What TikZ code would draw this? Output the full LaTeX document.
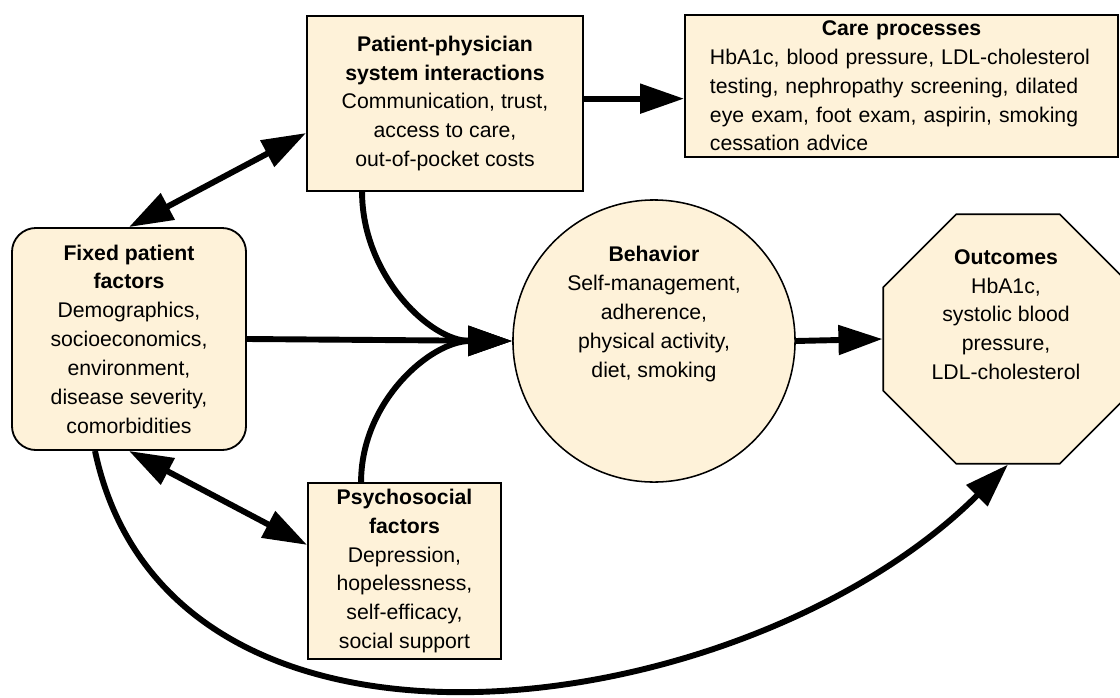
\documentclass[tikz,border=0pt]{standalone}
\usepackage{fontspec}
\setmainfont{Liberation Sans}
\usetikzlibrary{arrows.meta,shapes.geometric}
\definecolor{boxfill}{RGB}{254,242,217}

\begin{document}
\begin{tikzpicture}[x=0.025cm, y=-0.025cm,
        font=\fontsize{15.1}{20.5}\selectfont,
        factorbox/.style={rectangle, draw=black, fill=boxfill, line width=1.3pt, align=center, inner sep=0pt},
        roundbox/.style={factorbox, rounded corners=0.6cm},
        bubble/.style={circle, draw=black, fill=boxfill, line width=1.1pt, minimum size=7.05cm, inner sep=0pt},
        stopsign/.style={regular polygon, regular polygon sides=8, draw=black, fill=boxfill, line width=1.1pt, minimum size=6.75cm, inner sep=0pt},
        bodytext/.style={align=center, inner sep=0pt},
        link/.style={line width=4.2pt, -{Triangle[length=1.1cm,width=0.72cm]}},
        twoway/.style={line width=4.2pt, {Triangle[length=1.1cm,width=0.72cm]}-{Triangle[length=1.1cm,width=0.72cm]}},
    ]
        \useasboundingbox (0,0) rectangle (1120,698);

        %Nodes
        \node[roundbox, minimum width=5.85cm, minimum height=5.55cm] (fixed) at (129,339)
            {\textbf{Fixed patient}\\\textbf{factors}\\Demographics,\\socioeconomics,\\environment,\\disease severity,\\comorbidities};

        \node[factorbox, minimum width=6.9cm, minimum height=4.375cm] (phys) at (445,103.5)
            {\textbf{Patient-physician}\\\textbf{system interactions}\\Communication, trust,\\access to care,\\out-of-pocket costs};

        \node[factorbox, align=left, text width=9.575cm, minimum width=10.825cm, minimum height=3.55cm] (care) at (901.5,86)
            {{\centering\textbf{Care processes}\par}HbA1c, blood pressure, LDL-cholesterol\\testing, nephropathy screening, dilated\\eye exam, foot exam, aspirin, smoking\\cessation advice};

        \node[factorbox, minimum width=4.825cm, minimum height=4.4cm] (psy) at (404.5,571)
            {\textbf{Psychosocial}\\\textbf{factors}\\Depression,\\hopelessness,\\self-efficacy,\\social support};

        \node[bubble] (behavior) at (654,341) {};
        \node[bodytext] (behtext) at ([yshift=0.675cm]behavior.center)
            {\textbf{Behavior}\\Self-management,\\adherence,\\physical activity,\\diet, smoking};

        \node[stopsign] (outcomes) at (1008,339) {};
        \node[bodytext] (outtext) at ([yshift=0.61cm,xshift=-0.05cm]outcomes.center)
            {\textbf{Outcomes}\\HbA1c,\\systolic blood\\pressure,\\LDL-cholesterol};

        %Lines
        \draw[link] (phys.2) -- (care.west |- phys.2);
        \draw[twoway] (fixed.north) -- (phys.192);
        \draw[twoway] (fixed.south) -- (psy.165);

        \draw[link] (fixed.east) -- (behavior.west);
        \draw[link] ([xshift=1.4cm]phys.south west) to[out=-90,in=180] (behavior.west);
        \draw[link] ([xshift=1.35cm]psy.north west) to[out=90,in=180] (behavior.west);

        \draw[link] (behavior.east) -- (outcomes.west);
        \draw[link] ([xshift=-0.85cm]fixed.south) to[out=-78,in=-135,looseness=1.02] (outcomes.south);
    \end{tikzpicture}
\end{document}
